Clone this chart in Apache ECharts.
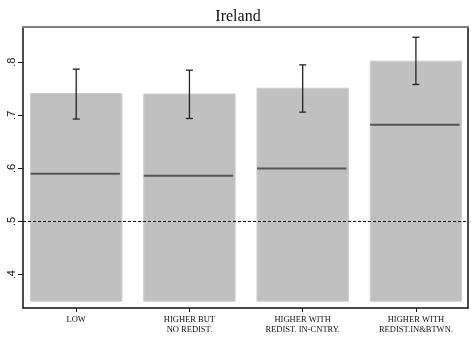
<!DOCTYPE html>
<html>
<head>
<meta charset="utf-8">
<script src="https://cdn.jsdelivr.net/npm/echarts@6/dist/echarts.min.js"></script>
<style>
  html, body { margin: 0; padding: 0; background: #fff; }
  #chart { width: 471px; height: 343px; }
</style>
</head>
<body>
<div id="chart"></div>
<script>
// Ireland: mean preference by redistribution scenario, with 95% CI and median
const categories = ['LOW', 'HIGHER BUT\nNO REDIST.', 'HIGHER WITH\nREDIST. IN-CNTRY.', 'HIGHER WITH\nREDIST.IN&BTWN.'];
const meanValues = [0.741, 0.740, 0.751, 0.802];
const medianValues = [0.590, 0.586, 0.600, 0.682];
const ciLower = [0.693, 0.694, 0.706, 0.758];
const ciUpper = [0.787, 0.785, 0.795, 0.847];
const yTicks = [0.4, 0.5, 0.6, 0.7, 0.8];
const refLine = 0.5;
const barBase = 0.35;

const xPositions = categories.map((c, i) => i + 1);
const seriesData = categories.map((c, i) => [i + 1, meanValues[i], medianValues[i], ciLower[i], ciUpper[i]]);

const BAR_HALF = 0.4035;
const CAP_HALF = 3.5;

function renderItem(params, api) {
  const x = api.value(0);
  const tl = api.coord([x - BAR_HALF, api.value(1)]);
  const br = api.coord([x + BAR_HALF, barBase]);
  const mL = api.coord([x - BAR_HALF, api.value(2)]);
  const mR = api.coord([x + BAR_HALF, api.value(2)]);
  const lo = api.coord([x, api.value(3)]);
  const hi = api.coord([x, api.value(4)]);
  const errStyle = { stroke: '#222', lineWidth: 1.3 };
  return {
    type: 'group',
    children: [
      { type: 'rect', shape: { x: tl[0], y: tl[1], width: br[0] - tl[0], height: br[1] - tl[1] },
        style: { fill: '#c0c0c0', stroke: '#cdcdcd', lineWidth: 1 } },
      { type: 'line', shape: { x1: mL[0], y1: mL[1], x2: mR[0] - 2, y2: mR[1] },
        style: { stroke: '#555', lineWidth: 2 } },
      { type: 'line', shape: { x1: lo[0], y1: lo[1], x2: hi[0], y2: hi[1] }, style: errStyle },
      { type: 'line', shape: { x1: lo[0] - CAP_HALF, y1: lo[1], x2: lo[0] + CAP_HALF, y2: lo[1] }, style: errStyle },
      { type: 'line', shape: { x1: hi[0] - CAP_HALF, y1: hi[1], x2: hi[0] + CAP_HALF, y2: hi[1] }, style: errStyle }
    ]
  };
}

const X_MIN = 0.53, X_MAX = 4.46;
const Y_MIN = 0.3371, Y_MAX = 0.8663;

const chart = echarts.init(document.getElementById('chart'), null, { renderer: 'canvas' });
chart.setOption({
  animation: false,
  backgroundColor: '#fff',
  title: {
    text: 'Ireland',
    left: 233,
    top: 4,
    textAlign: 'center',
    textStyle: { fontFamily: 'Liberation Serif', fontSize: 16, fontWeight: 'normal', color: '#111' }
  },
  grid: { left: 23, right: 3, top: 27, bottom: 35 },
  xAxis: [
    {
      type: 'value', position: 'bottom', min: X_MIN, max: X_MAX,
      axisLine: { show: true, lineStyle: { color: '#111', width: 1.5 } },
      axisTick: { show: true, customValues: xPositions, length: 4, lineStyle: { color: '#111', width: 1 } },
      axisLabel: {
        customValues: xPositions,
        formatter: v => categories[Math.round(v) - 1],
        fontFamily: 'Liberation Serif', fontSize: 8.5, lineHeight: 10, color: '#111', margin: 7
      },
      splitLine: { show: false }
    },
    {
      type: 'value', position: 'top', min: X_MIN, max: X_MAX,
      axisLine: { show: true, lineStyle: { color: '#808080', width: 2 } },
      axisTick: { show: false }, axisLabel: { show: false }, splitLine: { show: false }
    }
  ],
  yAxis: [
    {
      type: 'value', position: 'left', min: Y_MIN, max: Y_MAX,
      axisLine: { show: true, lineStyle: { color: '#111', width: 1.5 } },
      axisTick: { show: true, customValues: yTicks, length: 5, lineStyle: { color: '#111', width: 1 } },
      axisLabel: {
        customValues: yTicks,
        rotate: 90,
        formatter: v => v.toFixed(1).replace(/^0/, ''),
        fontFamily: 'Liberation Sans', fontSize: 11, color: '#111', margin: 6
      },
      splitLine: { show: false }
    },
    {
      type: 'value', position: 'right', min: Y_MIN, max: Y_MAX,
      axisLine: { show: true, lineStyle: { color: '#111', width: 1.5 } },
      axisTick: { show: false }, axisLabel: { show: false }, splitLine: { show: false }
    }
  ],
  series: [
    {
      type: 'custom',
      xAxisIndex: 0,
      yAxisIndex: 0,
      renderItem: renderItem,
      data: seriesData,
      silent: true,
      markLine: {
        silent: true,
        symbol: 'none',
        label: { show: false },
        lineStyle: { color: '#111', width: 1, type: [3, 2] },
        data: [{ yAxis: refLine }]
      }
    }
  ]
});
</script>
</body>
</html>
